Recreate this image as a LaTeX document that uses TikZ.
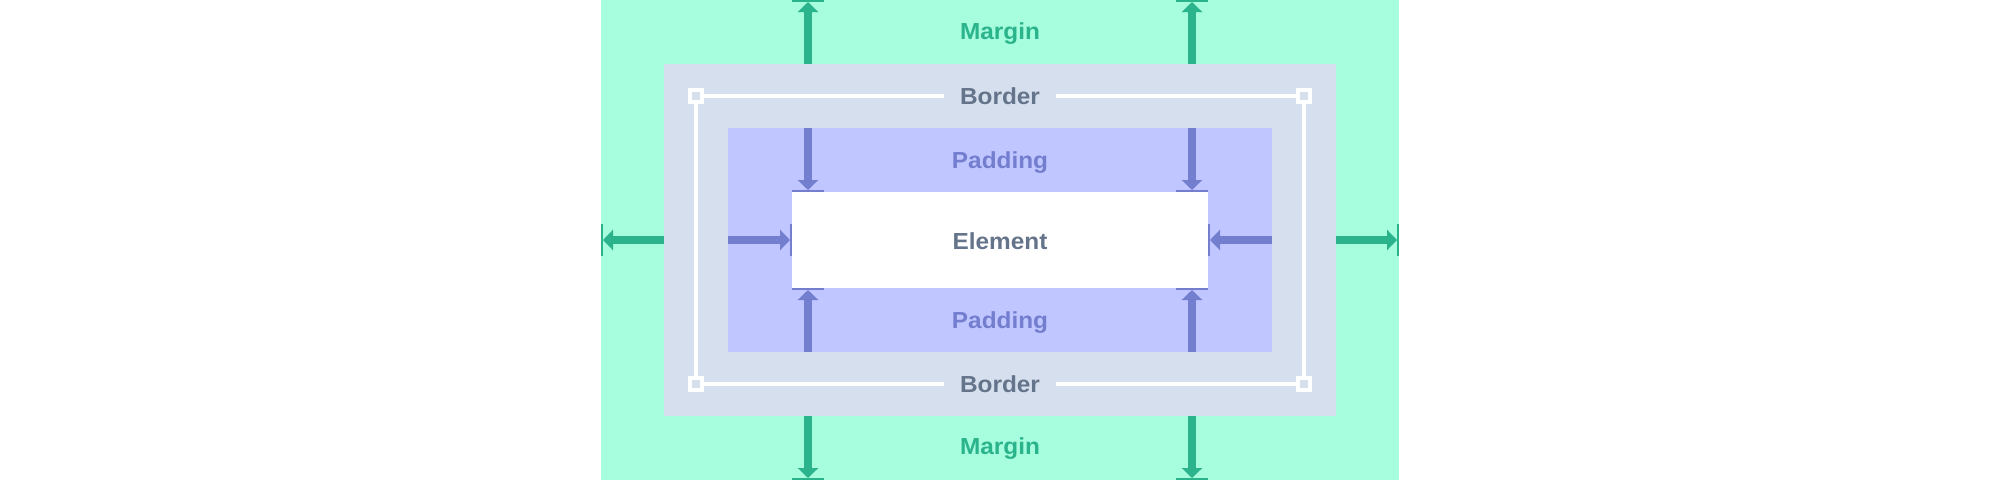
\documentclass[tikz,border=0pt]{standalone}
\usepackage{fontspec}
\setmainfont{Liberation Sans}[FakeStretch=1.05]
\usetikzlibrary{arrows.meta}
\definecolor{marginbg}{RGB}{166,254,222}
\definecolor{margincol}{RGB}{43,179,140}
\definecolor{borderbg}{RGB}{214,223,237}
\definecolor{bordertxt}{RGB}{100,116,139}
\definecolor{paddingbg}{RGB}{192,198,255}
\definecolor{paddingcol}{RGB}{115,126,207}
\tikzset{
  box/.style={rectangle, inner sep=0pt, outer sep=0pt, draw=none},
  lbl/.style={font=\bfseries\fontsize{23.2}{28}\selectfont, inner sep=0pt, anchor=base},
  marr/.style={draw=margincol, line width=8pt, -{Triangle[width=20pt,length=10pt]}},
  parr/.style={draw=paddingcol, line width=8pt, -{Triangle[width=20pt,length=10pt]}},
  mbar/.style={draw=margincol, line width=2pt},
  pbar/.style={draw=paddingcol, line width=2pt},
  corner/.style={rectangle, draw=white, line width=4pt, fill=borderbg, minimum size=12pt, inner sep=0pt},
  gap/.style={box, fill=borderbg, minimum width=112pt, minimum height=8pt},
}
\begin{document}
\begin{tikzpicture}[x=1pt,y=-1pt]
\useasboundingbox (0,0) rectangle (2000,480);
\node[box, fill=marginbg, minimum width=798pt, minimum height=480pt] (margin) at (1000,240) {};
\node[box, fill=borderbg, minimum width=672pt, minimum height=352pt] (border) at (1000,240) {};
\node[box, fill=paddingbg, minimum width=544pt, minimum height=224pt] (padding) at (1000,240) {};
\node[box, fill=white, minimum width=416pt, minimum height=96pt] (element) at (1000,240) {};

% border line
\coordinate (bTL) at (696,96);
\coordinate (bTR) at (1304,96);
\coordinate (bBR) at (1304,384);
\coordinate (bBL) at (696,384);
\draw[white, line width=4pt] (bTL) -- (bTR) -- (bBR) -- (bBL) -- cycle;
\foreach \c in {bTL,bTR,bBR,bBL} \node[corner] at (\c) {};
\node[gap] (gtop) at (1000,96) {};
\node[gap] (gbot) at (1000,384) {};

% labels
\node[lbl, text=margincol] (mtop) at (1000,39.3) {Margin};
\node[lbl, text=margincol] (mbot) at (1000,454.3) {Margin};
\node[lbl, text=bordertxt] (btop) at (1000,104.3) {Border};
\node[lbl, text=bordertxt] (bbot) at (1000,392.3) {Border};
\node[lbl, text=paddingcol] (ptop) at (1000,168.3) {Padding};
\node[lbl, text=paddingcol] (pbot) at (1000,328.3) {Padding};
\node[lbl, text=bordertxt] (etxt) at (1000,249.3) {Element};

% margin arrow ends
\coordinate (mT1) at (808,2);
\coordinate (mT2) at (1192,2);
\coordinate (mB1) at (808,478);
\coordinate (mB2) at (1192,478);
\coordinate (mL) at (603,240);
\coordinate (mR) at (1397,240);
\foreach \e in {mT1,mT2} {
  \draw[marr] (border.north -| \e) -- (\e);
  \draw[mbar] ([xshift=-16pt,yshift=1pt]\e) -- ([xshift=16pt,yshift=1pt]\e);
}
\foreach \e in {mB1,mB2} {
  \draw[marr] (border.south -| \e) -- (\e);
  \draw[mbar] ([xshift=-16pt,yshift=-1pt]\e) -- ([xshift=16pt,yshift=-1pt]\e);
}
\draw[marr] (border.west) -- (mL);
\draw[mbar] ([xshift=-1pt,yshift=-16pt]mL) -- ([xshift=-1pt,yshift=16pt]mL);
\draw[marr] (border.east) -- (mR);
\draw[mbar] ([xshift=1pt,yshift=-16pt]mR) -- ([xshift=1pt,yshift=16pt]mR);

% padding arrow ends
\coordinate (pT1) at (808,190);
\coordinate (pT2) at (1192,190);
\coordinate (pB1) at (808,290);
\coordinate (pB2) at (1192,290);
\coordinate (pL) at (790,240);
\coordinate (pR) at (1210,240);
\foreach \e in {pT1,pT2} {
  \draw[parr] (padding.north -| \e) -- (\e);
  \draw[pbar] ([xshift=-16pt,yshift=-1pt]\e) -- ([xshift=16pt,yshift=-1pt]\e);
}
\foreach \e in {pB1,pB2} {
  \draw[parr] (padding.south -| \e) -- (\e);
  \draw[pbar] ([xshift=-16pt,yshift=1pt]\e) -- ([xshift=16pt,yshift=1pt]\e);
}
\draw[parr] (padding.west) -- (pL);
\draw[pbar] ([xshift=1pt,yshift=-16pt]pL) -- ([xshift=1pt,yshift=16pt]pL);
\draw[parr] (padding.east) -- (pR);
\draw[pbar] ([xshift=-1pt,yshift=-16pt]pR) -- ([xshift=-1pt,yshift=16pt]pR);
\end{tikzpicture}
\end{document}
